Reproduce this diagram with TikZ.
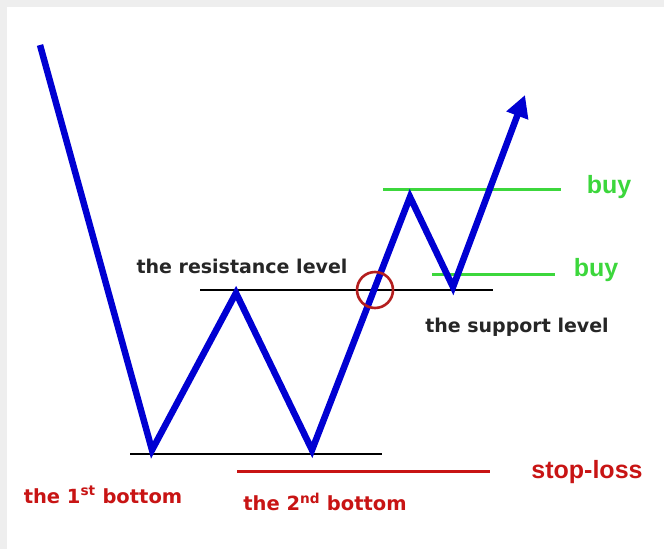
\documentclass[tikz,border=0pt]{standalone}
\usepackage{fontspec}
\setmainfont{Liberation Sans}
\newfontfamily\tahoma{DejaVu Sans}
\usetikzlibrary{arrows.meta}
\definecolor{pblue}{RGB}{0,0,210}
\definecolor{pgreen}{RGB}{60,215,60}
\definecolor{pred}{RGB}{200,20,20}
\definecolor{cred}{RGB}{180,30,30}
\definecolor{frame}{RGB}{238,238,238}
\tikzset{
  price/.style={draw=pblue,line width=6.5pt,line join=miter},
  level/.style={draw=black,line width=2.4pt},
  buyline/.style={draw=pgreen,line width=3pt},
  stopline/.style={draw=pred,line width=3pt},
  blabel/.style={font=\tahoma\bfseries\fontsize{19}{19}\selectfont,text=black!85,inner sep=0pt},
  rlabel/.style={font=\tahoma\bfseries\fontsize{19.5}{19.5}\selectfont,text=pred,inner sep=0pt},
  glabel/.style={font=\bfseries\fontsize{25}{25}\selectfont,text=pgreen,inner sep=0pt},
  slabel/.style={font=\bfseries\fontsize{25}{25}\selectfont,text=pred,inner sep=0pt},
}
\begin{document}
\begin{tikzpicture}[x=1pt,y=-1pt]
\fill[frame] (0,0) rectangle (664,549);
\fill[white] (7,7) rectangle (664,549);
\useasboundingbox (0,0) rectangle (664,549);
% coordinates
\coordinate (p0) at (40,45);
\coordinate (b1) at (152,450);
\coordinate (t1) at (236,293);
\coordinate (b2) at (312,450);
\coordinate (t2) at (410,197);
\coordinate (b3) at (453,287);
\coordinate (tip) at (525,95);
% level lines
\coordinate (bl1) at (130,454); \coordinate (bl2) at (382,454);
\draw[level] (bl1) -- (bl2);
\coordinate (rl1) at (200,290); \coordinate (rl2) at (493,290);
\draw[level] (rl1) -- (rl2);
\coordinate (sl1) at (237,471); \coordinate (sl2) at (490,471);
\draw[stopline] (sl1) -- (sl2);
\coordinate (g1a) at (383,189); \coordinate (g1b) at (561,189);
\draw[buyline] (g1a) -- (g1b);
\coordinate (g2a) at (432,274); \coordinate (g2b) at (555,274);
\draw[buyline] (g2a) -- (g2b);
% price path
\draw[price,-{Triangle[length=22pt,width=22pt]}] (p0) -- (b1) -- (t1) -- (b2) -- (t2) -- (b3) -- (tip);
% circle
\node (circ) [draw=cred,line width=2.6pt,circle,minimum size=36pt,inner sep=0pt] at (375,290) {};
% labels
\node (lres) [blabel] at (242,266) {the resistance level};
\node (lsup) [blabel] at (517,327) {the support level};
\node (lb1) [rlabel] at (103,495) {the 1\textsuperscript{st} bottom};
\node (lb2) [rlabel] at (325,502) {the 2\textsuperscript{nd} bottom};
\node (lstop) [slabel] at (587,472) {stop-loss};
\node (lbuy1) [glabel] at (609,187) {buy};
\node (lbuy2) [glabel] at (596,270) {buy};
\end{tikzpicture}
\end{document}
